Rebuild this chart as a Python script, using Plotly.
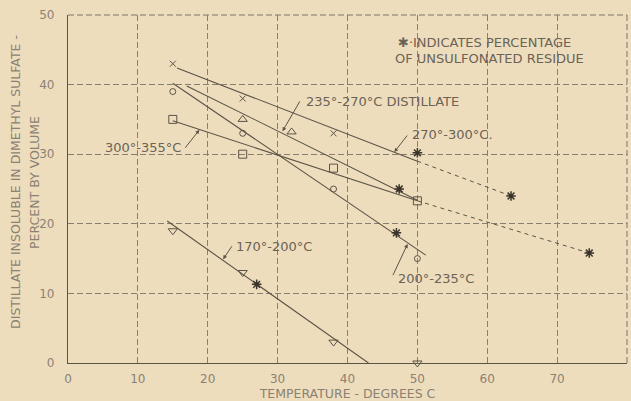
import plotly.graph_objects as go

# ---------------- data ----------------
# 170-200 C fraction (inverted triangles)
t170_x = [15, 25, 38, 50]
t170_y = [19, 13, 3, 0]
t170_star_x = [27]
t170_star_y = [11.3]
t170_fit_x = [14.2, 43]
t170_fit_y = [20.4, 0]

# 200-235 C fraction (circles)
t200_x = [15, 25, 38, 50]
t200_y = [39, 33, 25, 15]
t200_star_x = [47]
t200_star_y = [18.7]
t200_fit_x = [15, 51.2]
t200_fit_y = [40.2, 15.5]

# 235-270 C fraction (triangles)
t235_x = [25, 32]
t235_y = [35, 33.2]
t235_star_x = [47.4]
t235_star_y = [25]
t235_fit_x = [17, 50]
t235_fit_y = [39.8, 23.4]

# 270-300 C fraction (crosses)
t270_x = [15, 25, 38]
t270_y = [43, 38, 33]
t270_star_x = [50, 63.4]
t270_star_y = [30.2, 24]
t270_fit_x = [15.6, 50]
t270_fit_y = [42.4, 29.0]
t270_ext_x = [50, 63.4]
t270_ext_y = [29.0, 24]

# 300-355 C fraction (squares)
t300_x = [15, 25, 38, 50]
t300_y = [35, 30, 28, 23.3]
t300_star_x = [74.6]
t300_star_y = [15.8]
t300_fit_x = [15, 50]
t300_fit_y = [34.8, 23.3]
t300_ext_x = [50, 74.6]
t300_ext_y = [23.3, 15.8]

x_ticks = [0, 10, 20, 30, 40, 50, 60, 70, 80]
y_ticks = [0, 10, 20, 30, 40, 50]

# ---------------- styles ----------------
BG = "#EEDDBD"
INK = "#5a5347"
STAR = "#3a342c"
TXT = "#6a6356"
LIGHT = "#8a8274"
FONT = "DejaVu Sans"

fig = go.Figure()

def fit(x, y, dash="solid", w=1.1):
    fig.add_trace(go.Scatter(x=x, y=y, mode="lines",
                             line=dict(color=INK, width=w, dash=dash),
                             hoverinfo="skip", showlegend=False))

def pts(x, y, symbol, size=7):
    fig.add_trace(go.Scatter(x=x, y=y, mode="markers", cliponaxis=False,
                             marker=dict(symbol=symbol, size=size, color=INK,
                                         line=dict(color=INK, width=1.0)),
                             hoverinfo="skip", showlegend=False))

def stars(x, y):
    fig.add_trace(go.Scatter(x=x, y=y, mode="markers",
                             marker=dict(symbol="asterisk-open", size=8, color=STAR,
                                         line=dict(color=STAR, width=1.5)),
                             hoverinfo="skip", showlegend=False))
    fig.add_trace(go.Scatter(x=x, y=y, mode="markers",
                             marker=dict(symbol="circle", size=4, color=STAR),
                             hoverinfo="skip", showlegend=False))

fit(t170_fit_x, t170_fit_y)
fit(t200_fit_x, t200_fit_y)
fit(t235_fit_x, t235_fit_y)
fit(t270_fit_x, t270_fit_y)
fit(t270_ext_x, t270_ext_y, dash="4px,4px", w=1)
fit(t300_fit_x, t300_fit_y)
fit(t300_ext_x, t300_ext_y, dash="4px,4px", w=1)

pts(t170_x, t170_y, "triangle-down-open", 8)
pts(t200_x, t200_y, "circle-open", 6)
pts(t235_x, t235_y, "triangle-up-open", 8)
pts(t270_x, t270_y, "x-thin-open", 6)
pts(t300_x, t300_y, "square-open", 8)

stars(t170_star_x, t170_star_y)
stars(t200_star_x, t200_star_y)
stars(t235_star_x, t235_star_y)
stars(t270_star_x, t270_star_y)
stars(t300_star_x, t300_star_y)

# ---------------- labels ----------------
def label(text, x, y, xanchor="left"):
    fig.add_annotation(x=x, y=y, text=text, showarrow=False, xanchor=xanchor,
                       yanchor="middle", font=dict(family=FONT, size=13, color=TXT))

def leader(x0, y0, x1, y1):
    fig.add_annotation(x=x1, y=y1, ax=x0, ay=y0, xref="x", yref="y",
                       axref="x", ayref="y", text="", showarrow=True,
                       arrowhead=2, arrowsize=0.8, arrowwidth=1, arrowcolor=INK)

label("✱·INDICATES PERCENTAGE", 46.9, 46.1)
label("OF UNSULFONATED RESIDUE", 46.5, 43.8)
label("235°-270°C DISTILLATE", 33.8, 37.6)
leader(33.3, 37.8, 30.7, 33.3)
label("270°-300°C.", 48.9, 32.8)
leader(48.7, 32.9, 46.7, 30.3)
label("300°-355°C", 16.4, 30.9, xanchor="right")
leader(16.6, 30.7, 18.8, 33.5)
label("170°-200°C", 23.8, 16.7)
leader(23.6, 17.0, 22.2, 14.9)
label("200°-235°C", 46.9, 12.1)
leader(46.4, 12.4, 48.6, 17.1)

# y-axis title (two lines)
fig.add_annotation(xref="paper", yref="paper", x=-0.095, y=0.52,
                   xanchor="center", yanchor="middle",
                   text="DISTILLATE INSOLUBLE IN DIMETHYL SULFATE -",
                   textangle=-90, showarrow=False,
                   font=dict(family=FONT, size=12.5, color=LIGHT))
fig.add_annotation(xref="paper", yref="paper", x=-0.061, y=0.52,
                   xanchor="center", yanchor="middle",
                   text="PERCENT BY VOLUME",
                   textangle=-90, showarrow=False,
                   font=dict(family=FONT, size=12.5, color=LIGHT))

# dashed top and right frame
fig.add_shape(type="line", xref="paper", yref="paper", x0=0, x1=1, y0=1, y1=1,
              line=dict(color="#7d7568", width=1, dash="6px,3px"))
fig.add_shape(type="line", xref="paper", yref="paper", x0=1, x1=1, y0=0, y1=1,
              line=dict(color="#7d7568", width=1, dash="6px,3px"))

axis_common = dict(showgrid=True, gridcolor="#877f71", gridwidth=1,
                   griddash="6px,3px", zeroline=False,
                   showline=True, linecolor=INK, linewidth=1.2,
                   ticks="outside", tickcolor="rgba(0,0,0,0)",
                   tickfont=dict(family=FONT, size=12, color=LIGHT))

fig.update_xaxes(range=[0, 80], tickvals=x_ticks, ticklen=4,
                 title=dict(text="TEMPERATURE - DEGREES C", standoff=2,
                            font=dict(family=FONT, size=12.5, color=LIGHT)),
                 **axis_common)
fig.update_yaxes(range=[0, 50], tickvals=y_ticks, ticklen=10, **axis_common)

fig.update_layout(width=631, height=401,
                  margin=dict(l=68, r=4, t=15, b=38),
                  paper_bgcolor=BG, plot_bgcolor=BG,
                  showlegend=False)

fig.write_html("out.html",
               config={"displayModeBar": False},
               post_script="document.body.style.margin='0';"
                           "document.body.style.background='" + BG + "';")
